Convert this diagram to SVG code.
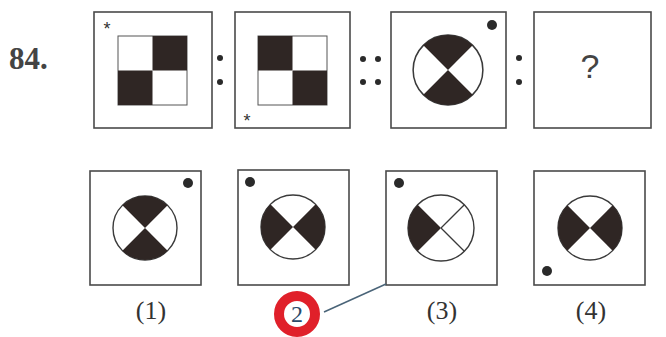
<svg xmlns="http://www.w3.org/2000/svg" width="666" height="337" viewBox="0 0 666 337">
<style>
.box{fill:#fff;stroke:#4a4a4a;stroke-width:1.6}
.blk{fill:#2f2624}
.cir{fill:#fff;stroke:#3a3a3a;stroke-width:1.4}
.ln{stroke:#3a3a3a;stroke-width:1.3}
.dot{fill:#2a2a2a}
.lbl{font-family:"Liberation Serif",serif;font-size:26px;fill:#333;text-anchor:middle}
.star{font-family:"Liberation Sans",sans-serif;font-size:18px;fill:#333;text-anchor:middle}
</style>
<defs>
<g id="tb">
<circle class="cir" cx="0" cy="0" r="32"/>
<path class="blk" d="M0,0 L-22.63,-22.63 A32,32 0 0 1 22.63,-22.63 Z"/>
<path class="blk" d="M0,0 L22.63,22.63 A32,32 0 0 1 -22.63,22.63 Z"/>
</g>
<g id="lr">
<circle class="cir" cx="0" cy="0" r="32"/>
<path class="blk" d="M0,0 L-22.63,22.63 A32,32 0 0 1 -22.63,-22.63 Z"/>
<path class="blk" d="M0,0 L22.63,-22.63 A32,32 0 0 1 22.63,22.63 Z"/>
</g>
</defs>
<rect width="666" height="337" fill="#fff"/>
<text x="9" y="69" font-family="Liberation Serif,serif" font-size="31" font-weight="bold" fill="#444">84.</text>

<g id="q1">
<rect class="box" x="94" y="12" width="118" height="116"/>
<rect x="118" y="36" width="69" height="69" fill="#fff" stroke="#555" stroke-width="1"/>
<rect class="blk" x="152.5" y="36" width="34.5" height="34.5"/>
<rect class="blk" x="118" y="70.5" width="34.5" height="34.5"/>
<text class="star" x="107" y="35">*</text>
</g>
<g id="colon1"><circle class="dot" cx="220" cy="58" r="3"/><circle class="dot" cx="220" cy="82" r="3"/></g>
<g id="q2">
<rect class="box" x="235" y="12" width="115" height="116"/>
<rect x="258" y="36" width="69" height="69" fill="#fff" stroke="#555" stroke-width="1"/>
<rect class="blk" x="258" y="36" width="34.5" height="34.5"/>
<rect class="blk" x="292.5" y="70.5" width="34.5" height="34.5"/>
<text class="star" x="247" y="127">*</text>
</g>
<g id="dcolon"><circle class="dot" cx="363" cy="59" r="3"/><circle class="dot" cx="378" cy="59" r="3"/><circle class="dot" cx="363" cy="82" r="3"/><circle class="dot" cx="378" cy="82" r="3"/></g>
<g id="q3">
<rect class="box" x="391" y="12" width="115" height="116"/>
<use href="#tb" transform="translate(448,70) scale(1.09)"/>
<circle class="dot" cx="492" cy="25" r="5"/>
</g>
<g id="colon2"><circle class="dot" cx="519" cy="58" r="3"/><circle class="dot" cx="519" cy="82" r="3"/></g>
<g id="q4">
<rect class="box" x="534" y="12" width="117" height="116"/>
<text x="590" y="78" font-family="Liberation Sans,sans-serif" font-size="34" fill="#444" text-anchor="middle">?</text>
</g>

<g id="opt1">
<rect class="box" x="90" y="171" width="111" height="114"/>
<use href="#tb" transform="translate(145,228)"/>
<circle class="dot" cx="188" cy="183" r="5"/>
<text class="lbl" x="151" y="319">(1)</text>
</g>
<g id="opt2">
<rect class="box" x="238" y="170" width="111" height="115"/>
<use href="#lr" transform="translate(293,227)"/>
<circle class="dot" cx="250" cy="182" r="5"/>
</g>
<g id="opt3">
<rect class="box" x="386" y="171" width="111" height="114"/>
<circle class="cir" cx="441" cy="228" r="33"/>
<path class="blk" d="M441,228 L417.67,251.33 A33,33 0 0 1 417.67,204.67 Z"/>
<line class="ln" x1="441" y1="228" x2="464.33" y2="204.67"/>
<line class="ln" x1="441" y1="228" x2="464.33" y2="251.33"/>
<circle class="dot" cx="399" cy="183" r="5"/>
<text class="lbl" x="442" y="319">(3)</text>
</g>
<g id="opt4">
<rect class="box" x="534" y="171" width="111" height="114"/>
<use href="#lr" transform="translate(590,228)"/>
<circle class="dot" cx="547" cy="271" r="5"/>
<text class="lbl" x="591" y="319">(4)</text>
</g>

<g id="connectors">
<line x1="324" y1="312" x2="386" y2="284" stroke="#4a6478" stroke-width="1.5"/>
</g>
<g id="answer">
<circle cx="297" cy="314" r="18" fill="#fff" stroke="#e0202a" stroke-width="10"/>
<text x="297" y="322" font-family="Liberation Serif,serif" font-size="24" fill="#2a4a6a" text-anchor="middle">2</text>
</g>
</svg>
